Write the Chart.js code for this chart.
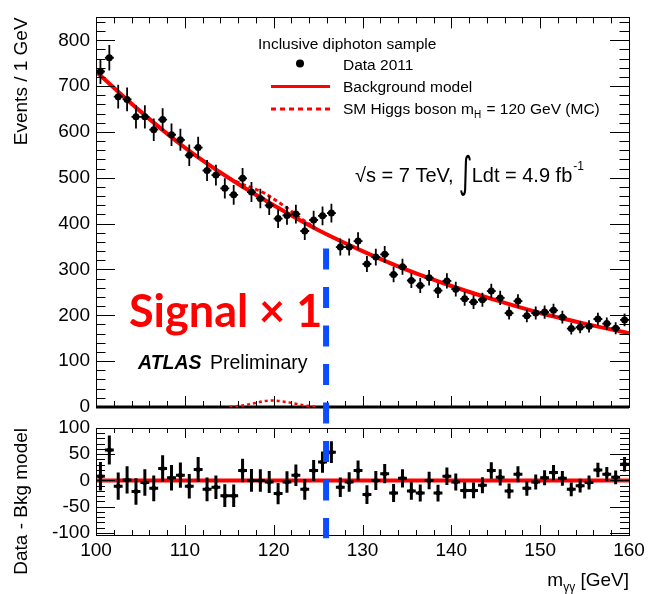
<!DOCTYPE html>
<html>
<head>
<meta charset="utf-8">
<script src="https://cdn.jsdelivr.net/npm/chart.js@4.4.1/dist/chart.umd.min.js"></script>
<style>
  html, body { margin: 0; padding: 0; background: #fff; }
  #wrap { position: relative; width: 649px; height: 594px; }
  #wrap canvas { position: absolute; left: 0; top: 0; }
</style>
</head>
<body>
<div id="wrap">
  <canvas id="ratioCanvas" width="649" height="594"></canvas>
  <canvas id="massCanvas" width="649" height="594"></canvas>
</div>
<script>
var FONT = "'Liberation Sans', Arial, Helvetica, sans-serif";
var RED = '#ff0000';
var BLUE = '#0a4cff';

// 1 GeV bins between 100 and 160 GeV
var massBins = [];
for (var i = 0; i < 60; i++) massBins.push(100.5 + i);

var eventsData = [
  732, 762, 677, 671, 633, 633, 605, 627, 594, 583,
  549, 566, 516, 506, 477, 463, 499, 469, 455, 440,
  411, 418, 421, 384, 408, 417, 423, 349, 349, 362,
  312, 327, 333, 289, 306, 276, 265, 282, 254, 275,
  257, 236, 229, 234, 253, 238, 205, 231, 199, 205,
  207, 211, 196, 171, 174, 176, 192, 182, 172, 190
];

var residualData = [
    8,  58, -11,   1, -21,  -4, -15,  23,   5,  10,
  -11,  21, -17, -13, -29, -29,  19,   0,   0,  -3,
  -25,  -3,  10, -17,  19,  35,  54, -13,  -3,  19,
  -27,   0,  13, -24,   4, -20, -24,   0, -24,   8,
   -3, -19, -19,  -9,  19,   6, -20,  12, -15,  -3,
    5,  15,   4, -17, -10,  -4,  20,  12,   6,  31
];

// background fit, sampled every 5 GeV
var bkgMass = [100, 105, 110, 115, 120, 125, 130, 135, 140, 145, 150, 155, 160];
var bkgEvents = [732, 645, 566, 499, 440, 386, 340, 299, 264, 233, 205, 182, 161];

// SM Higgs MC, mH = 120 GeV
var higgsMass = [115, 116, 117, 118, 119, 120, 121, 122, 123, 124, 125];
var higgsSignal = [0, 2, 5, 9, 13, 14, 12, 9, 5, 2, 0];
var higgsPlusBkg = [499, 490, 482, 475, 466, 454, 441, 427, 412, 399, 386];

var xTickLabels = [100, 110, 120, 130, 140, 150, 160];
var yTickLabelsTop = [0, 100, 200, 300, 400, 500, 600, 700, 800];
var yTickLabelsRatio = [-100, -50, 0, 50, 100];

// vertical marker across both pads
var markMass = 125.9;
var markTopEvents = 346;
var markBottomResidual = -110;

function pts(xs, ys) {
  return xs.map(function (x, k) { return { x: x, y: ys[k] }; });
}

function fixedTicks(list) {
  return function (scale) {
    scale.ticks = list.map(function (v) { return { value: v }; });
  };
}

// ROOT style frame with inward ticks on all four sides
function drawFrame(chart, o) {
  var ctx = chart.ctx, a = chart.chartArea, xs = chart.scales.x, ys = chart.scales.y;
  ctx.save();
  ctx.strokeStyle = '#000';
  ctx.lineWidth = 1;
  ctx.beginPath();
  for (var v = 100; v <= 160.001; v += 2) {
    var px = Math.round(xs.getPixelForValue(v)) + 0.5;
    var len = (Math.round(v) % 10 === 0) ? o.xMajor : o.xMinor;
    ctx.moveTo(px, a.bottom); ctx.lineTo(px, a.bottom - len);
    ctx.moveTo(px, a.top); ctx.lineTo(px, a.top + len);
  }
  for (var w = o.yFrom; w <= ys.max + 0.001; w += o.yMinorStep) {
    var py = Math.round(ys.getPixelForValue(w)) + 0.5;
    var r = w / o.yMajorStep;
    var l = Math.abs(r - Math.round(r)) < 1e-6 ? o.yMajor : o.yMinor;
    ctx.moveTo(a.left, py); ctx.lineTo(a.left + l, py);
    ctx.moveTo(a.right, py); ctx.lineTo(a.right - l, py);
  }
  ctx.stroke();
  ctx.strokeRect(Math.round(a.left) + 0.5, Math.round(a.top) + 0.5,
                 Math.round(a.right - a.left), Math.round(a.bottom - a.top));
  ctx.restore();
}

function drawErrorBars(chart, values, width) {
  var ctx = chart.ctx, xs = chart.scales.x, ys = chart.scales.y;
  ctx.save();
  ctx.strokeStyle = '#000';
  ctx.lineWidth = width;
  ctx.beginPath();
  massBins.forEach(function (m, k) {
    var err = Math.sqrt(eventsData[k]);
    var px = xs.getPixelForValue(m), py = ys.getPixelForValue(values[k]);
    ctx.moveTo(px, ys.getPixelForValue(values[k] - err));
    ctx.lineTo(px, ys.getPixelForValue(values[k] + err));
    ctx.moveTo(xs.getPixelForValue(m - 0.5), py);
    ctx.lineTo(xs.getPixelForValue(m + 0.5), py);
  });
  ctx.stroke();
  ctx.restore();
}

// text made of runs with their own font and baseline shift
function runsWidth(ctx, runs) {
  var w = 0;
  runs.forEach(function (r) { ctx.font = r.font; w += ctx.measureText(r.text).width + (r.gap || 0); });
  return w;
}
function drawRuns(ctx, x, y, runs) {
  runs.forEach(function (r) {
    ctx.font = r.font;
    ctx.fillText(r.text, x, y + (r.dy || 0));
    x += ctx.measureText(r.text).width + (r.gap || 0);
  });
  return x;
}

var ratioDecor = {
  id: 'ratioDecor',
  afterDatasetsDraw: function (chart) {
    drawErrorBars(chart, residualData, 3);
  },
  afterDraw: function (chart) {
    drawFrame(chart, { xMajor: 10, xMinor: 5, yFrom: -100, yMinorStep: 10, yMajorStep: 50, yMajor: 19, yMinor: 9 });
    var ctx = chart.ctx, a = chart.chartArea;
    ctx.save();
    ctx.fillStyle = '#000';
    ctx.textBaseline = 'alphabetic';
    var runs = [
      { text: 'm', font: '19px ' + FONT, gap: 0 },
      { text: 'γγ', font: '12px ' + FONT, dy: 5 },
      { text: ' [GeV]', font: '19px ' + FONT }
    ];
    drawRuns(ctx, a.right - runsWidth(ctx, runs), 586, runs);
    ctx.restore();
  }
};

var ratioChart = new Chart(document.getElementById('ratioCanvas'), {
  type: 'line',
  data: {
    datasets: [
      {
        label: 'Data - Bkg model',
        data: pts(massBins, residualData),
        showLine: false,
        pointRadius: 2.5,
        pointBackgroundColor: '#000',
        pointBorderWidth: 0
      },
      {
        label: 'Bkg model',
        data: pts([100, 160], [0, 0]),
        borderColor: RED,
        borderWidth: 4,
        pointRadius: 0
      }
    ]
  },
  options: {
    animation: false,
    responsive: false,
    events: [],
    layout: { padding: { top: 428, right: 20, bottom: 0, left: 0 } },
    plugins: { legend: { display: false }, tooltip: { enabled: false } },
    scales: {
      x: {
        type: 'linear', min: 100, max: 160,
        afterBuildTicks: fixedTicks(xTickLabels),
        afterFit: function (s) { s.height = 59; },
        grid: { display: false, drawTicks: false },
        border: { display: false },
        ticks: { color: '#000', font: { family: FONT, size: 19 }, padding: 4, maxRotation: 0, autoSkip: false }
      },
      y: {
        type: 'linear', min: -104, max: 100,
        afterBuildTicks: fixedTicks(yTickLabelsRatio),
        afterFit: function (s) { s.width = 96; },
        grid: { display: false, drawTicks: false },
        border: { display: false },
        ticks: { color: '#000', font: { family: FONT, size: 19 }, padding: 6 },
        title: {
          display: true, text: 'Data - Bkg model', align: 'end', color: '#000',
          font: { family: FONT, size: 19 }, padding: { top: 10, bottom: 0 }
        }
      }
    }
  },
  plugins: [ratioDecor]
});

var massDecor = {
  id: 'massDecor',
  beforeDatasetsDraw: function (chart) {
    var ctx = chart.ctx, a = chart.chartArea, y0 = chart.scales.y.getPixelForValue(0);
    ctx.save();
    ctx.strokeStyle = '#000';
    ctx.lineWidth = 3;
    ctx.beginPath();
    ctx.moveTo(a.left, y0); ctx.lineTo(a.right, y0);
    ctx.stroke();
    ctx.restore();
  },
  afterDatasetsDraw: function (chart) {
    drawErrorBars(chart, eventsData, 1.8);
  },
  afterDraw: function (chart) {
    drawFrame(chart, { xMajor: 11, xMinor: 6, yFrom: 0, yMinorStep: 20, yMajorStep: 100, yMajor: 19, yMinor: 9.5 });
    var ctx = chart.ctx, xs = chart.scales.x, ys = chart.scales.y;
    ctx.save();
    ctx.fillStyle = '#000';
    ctx.textBaseline = 'alphabetic';

    // legend
    var lf = '15.5px ' + FONT;
    ctx.font = lf;
    ctx.fillText('Inclusive diphoton sample', 258, 48.5);
    ctx.beginPath(); ctx.arc(300, 63.5, 4, 0, Math.PI * 2); ctx.fill();
    ctx.fillText('Data 2011', 343, 69.5);
    ctx.strokeStyle = RED;
    ctx.lineWidth = 3;
    ctx.beginPath(); ctx.moveTo(271, 86.5); ctx.lineTo(330, 86.5); ctx.stroke();
    ctx.fillText('Background model', 343, 91.5);
    ctx.setLineDash([5, 4]);
    ctx.beginPath(); ctx.moveTo(271, 109); ctx.lineTo(330, 109); ctx.stroke();
    ctx.setLineDash([]);
    drawRuns(ctx, 343, 113.5, [
      { text: 'SM Higgs boson m', font: lf },
      { text: 'H', font: '10px ' + FONT, dy: 4, gap: 1 },
      { text: ' = 120 GeV (MC)', font: lf }
    ]);

    // energy and luminosity
    var ef = '20px ' + FONT;
    var ex = drawRuns(ctx, 355, 181.5, [{ text: '√s = 7 TeV,', font: ef, gap: 5 }]);
    ctx.save();
    ctx.font = '26px DejaVu Sans';
    ctx.translate(ex, 187);
    ctx.scale(1, 1.65);
    ctx.fillText('∫', 0, 0);
    ctx.restore();
    drawRuns(ctx, ex + 13, 181.5, [
      { text: 'Ldt = 4.9 fb', font: ef, gap: 1 },
      { text: '-1', font: '12px ' + FONT, dy: -12 }
    ]);

    // experiment tag
    ctx.font = 'italic bold 19.5px ' + FONT;
    ctx.fillText('ATLAS', 138, 368.5);
    ctx.font = '19.5px ' + FONT;
    ctx.fillText('Preliminary', 210, 368.5);

    ctx.fillStyle = RED;
    ctx.font = 'bold 45px Lato, ' + FONT;
    ctx.fillText('Signal × 1', 129, 327);

    // dashed marker line running into the lower pad
    var bx = xs.getPixelForValue(markMass);
    var by0 = ys.getPixelForValue(markTopEvents);
    var by1 = ratioChart.scales.y.getPixelForValue(markBottomResidual);
    ctx.strokeStyle = BLUE;
    ctx.lineWidth = 6;
    ctx.setLineDash([21, 17.5]);
    ctx.beginPath(); ctx.moveTo(bx, by0); ctx.lineTo(bx, by1); ctx.stroke();
    ctx.restore();
  }
};

var massChart = new Chart(document.getElementById('massCanvas'), {
  type: 'line',
  data: {
    datasets: [
      {
        label: 'Data 2011',
        data: pts(massBins, eventsData),
        showLine: false,
        pointRadius: 3.5,
        pointBackgroundColor: '#000',
        pointBorderWidth: 0
      },
      {
        label: 'SM Higgs boson mH = 120 GeV (MC)',
        data: pts(higgsMass, higgsPlusBkg),
        borderColor: RED,
        borderWidth: 3,
        borderDash: [4, 3],
        pointRadius: 0,
        cubicInterpolationMode: 'monotone'
      },
      {
        label: 'Background model',
        data: pts(bkgMass, bkgEvents),
        borderColor: RED,
        borderWidth: 4,
        pointRadius: 0,
        cubicInterpolationMode: 'monotone'
      },
      {
        label: 'SM Higgs signal',
        data: pts(higgsMass, higgsSignal),
        borderColor: RED,
        borderWidth: 2.5,
        borderDash: [3, 3],
        pointRadius: 0,
        cubicInterpolationMode: 'monotone'
      }
    ]
  },
  options: {
    animation: false,
    responsive: false,
    events: [],
    layout: { padding: { top: 10, right: 20, bottom: 187, left: 0 } },
    plugins: { legend: { display: false }, tooltip: { enabled: false } },
    scales: {
      x: { type: 'linear', min: 100, max: 160, display: false },
      y: {
        type: 'linear', min: 0, max: 850,
        afterBuildTicks: fixedTicks(yTickLabelsTop),
        afterFit: function (s) { s.width = 96; },
        grid: { display: false, drawTicks: false },
        border: { display: false },
        ticks: { color: '#000', font: { family: FONT, size: 19 }, padding: 6 },
        title: {
          display: true, text: 'Events / 1 GeV', align: 'end', color: '#000',
          font: { family: FONT, size: 19 }, padding: { top: 10, bottom: 0 }
        }
      }
    }
  },
  plugins: [massDecor]
});
</script>
</body>
</html>
